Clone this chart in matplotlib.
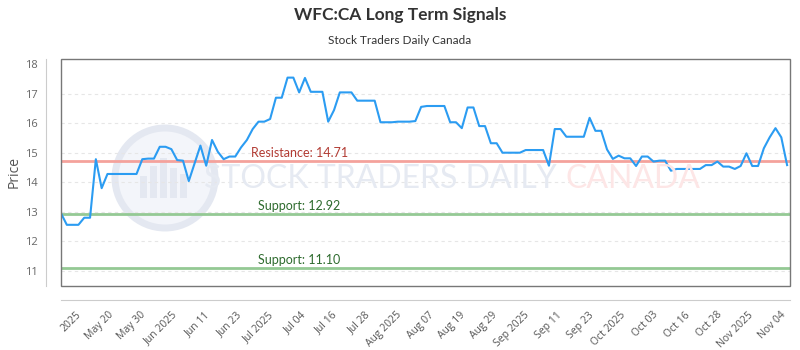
import numpy as np
import matplotlib
matplotlib.use('Agg')
import matplotlib.pyplot as plt
from matplotlib.patches import Ellipse, Rectangle

# price series (one value per trading day)
prices = [12.95, 12.56, 12.56, 12.56, 12.80, 12.80, 14.78, 13.80, 14.28, 14.28,
          14.28, 14.28, 14.28, 14.28, 14.78, 14.80, 14.80, 15.20, 15.20, 15.12,
          14.75, 14.73, 14.04, 14.64, 15.24, 14.56, 15.43, 15.03, 14.78, 14.87,
          14.87, 15.18, 15.43, 15.80, 16.05, 16.05, 16.14, 16.86, 16.86, 17.54,
          17.54, 17.04, 17.53, 17.06, 17.06, 17.06, 16.05, 16.44, 17.04, 17.04,
          17.04, 16.76, 16.76, 16.76, 16.76, 16.03, 16.03, 16.03, 16.05, 16.05,
          16.05, 16.07, 16.55, 16.58, 16.58, 16.58, 16.58, 16.03, 16.03, 15.83,
          16.53, 16.53, 15.90, 15.90, 15.32, 15.32, 15.00, 15.00, 15.00, 15.00,
          15.09, 15.09, 15.09, 15.09, 14.56, 15.80, 15.80, 15.54, 15.54, 15.54,
          15.54, 16.18, 15.74, 15.74, 15.11, 14.79, 14.90, 14.81, 14.81, 14.55,
          14.87, 14.87, 14.70, 14.73, 14.73, 14.39, 14.45, 14.45, 14.45, 14.45,
          14.45, 14.58, 14.58, 14.70, 14.53, 14.53, 14.45, 14.55, 14.98, 14.55,
          14.55, 15.15, 15.52, 15.83, 15.52, 14.58]

tick_labels = ['2025', 'May 20', 'May 30', 'Jun 2025', 'Jun 11', 'Jun 23',
               'Jul 2025', 'Jul 04', 'Jul 16', 'Jul 28', 'Aug 2025', 'Aug 07',
               'Aug 19', 'Aug 29', 'Sep 2025', 'Sep 11', 'Sep 23', 'Oct 2025',
               'Oct 03', 'Oct 16', 'Oct 28', 'Nov 2025', 'Nov 04']

resistance = 14.71
supports = [12.92, 11.10]

narrow = ['Lato', 'DejaVu Sans']
plain = ['Open Sans', 'DejaVu Sans']

fig = plt.figure(figsize=(8, 3.5), dpi=100)
ax = fig.add_axes([61 / 800, 1 - 286 / 350, 729 / 800, 227 / 350])
ax.patch.set_alpha(0)

# spines first: set_position resets the ticks
ax.spines['top'].set_visible(False)
ax.spines['right'].set_visible(False)
ax.spines['left'].set_position(('outward', 11))
ax.spines['bottom'].set_position(('outward', 10))
ax.spines['left'].set_color('#cccccc')
ax.spines['bottom'].set_color('#cccccc')
ax.add_artist(Rectangle((0, 0), 1, 1, transform=ax.transAxes, fill=False,
                        edgecolor='#777777', lw=1, zorder=4, clip_on=False))

x = np.arange(len(prices))

# watermark
ax.add_artist(Ellipse((165 / 800, 1 - 178 / 350), 100 / 800, 100 / 350,
                      transform=fig.transFigure, facecolor='#f3f5fa',
                      edgecolor='#e4e8f1', lw=5, zorder=0))
for bx, bh in [(140, 22), (150, 32), (160, 40), (170, 30), (180, 24)]:
    ax.add_artist(Rectangle((bx / 800, (350 - 198) / 350), 7 / 800, bh / 350,
                            transform=fig.transFigure, facecolor='#e4e8f1',
                            edgecolor='none', zorder=0))
fig.text(204 / 800, 1 - 179 / 350, 'STOCK TRADERS DAILY', family=narrow,
         fontsize=23, color='#e6eaf2', ha='left', va='center', zorder=0)
fig.text(700 / 800, 1 - 179 / 350, 'CANADA', family=narrow,
         fontsize=23, color='#fde6e6', ha='right', va='center', zorder=0)

# grid
for gv in range(11, 18):
    ax.axhline(gv, color='#e6e6e6', lw=0.8, ls=(0, (3, 3)), zorder=1)

# support / resistance lines
ax.axhline(resistance, color='#f4a29c', lw=2, zorder=2)
ax.text(41, resistance + 0.08, 'Resistance: %.2f' % resistance, color='#b23b33',
        ha='center', va='bottom', fontsize=9, family=narrow)
for s in supports:
    ax.axhline(s, color='#94c994', lw=2, zorder=2)
    ax.text(41, s + 0.08, 'Support: %.2f' % s, color='#2e6b2e',
            ha='center', va='bottom', fontsize=9, family=narrow)

ax.plot(x, prices, color='#2b9cf2', lw=1.5, zorder=3)

ax.set_xlim(0, 125.5)
ax.set_ylim(10.49, 18.17)
ax.set_yticks(range(11, 19))
ax.set_xticks(np.linspace(2.6, 123.8, len(tick_labels)))
ax.set_xticklabels(tick_labels)
ax.tick_params(axis='y', length=0, pad=6, labelsize=8, labelcolor='#666666')
ax.tick_params(axis='x', length=0, pad=7, labelsize=7.5, labelcolor='#555555')
for lab in ax.get_xticklabels():
    lab.set_rotation(45)
    lab.set_ha('right')
    lab.set_va('top')
    lab.set_rotation_mode('anchor')
    lab.set_family(plain)
for lab in ax.get_yticklabels():
    lab.set_family(plain)

ax.set_ylabel('Price', fontsize=10, color='#555555', family=plain)
ax.yaxis.set_label_coords((22 - 61) / 729, 0.5)

fig.text(0.5, 1 - 15 / 350, 'WFC:CA Long Term Signals', ha='center',
         va='center', fontsize=12.5, weight='bold', color='#333333', family=narrow)
fig.text(0.5, 1 - 40 / 350, 'Stock Traders Daily Canada', ha='center',
         va='center', fontsize=8.5, color='#333333', family=narrow)

fig.savefig('out.png', dpi=100)
